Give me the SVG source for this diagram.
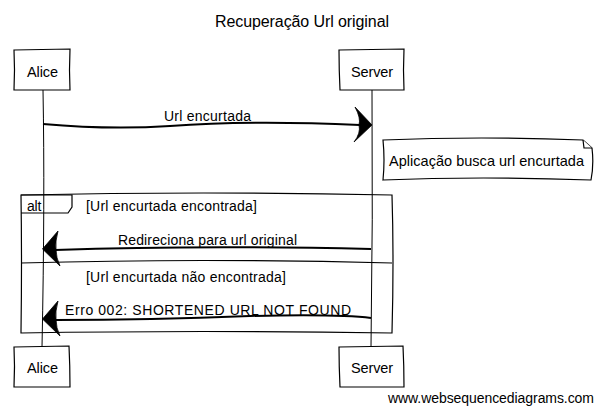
<svg xmlns="http://www.w3.org/2000/svg" width="601" height="412" viewBox="0 0 601 412">
<style>
text { font-family: "Liberation Sans", Arial, sans-serif; fill: #000; }
.t { font-size: 14px; }
.p { font-size: 14.5px; }
.title { font-size: 16px; text-anchor: middle; }
.box { fill: #fff; stroke: #000; stroke-width: 1.2; }
.life { fill: none; stroke: #000; stroke-width: 1; }
.msg { fill: none; stroke: #000; stroke-width: 2; }
.head { fill: #000; stroke: #000; stroke-width: 0.8; stroke-linejoin: round; }
.frame { fill: none; stroke: #000; stroke-width: 1.2; }
.note { fill: #fff; stroke: #000; stroke-width: 1.2; }
</style>
<rect width="601" height="412" fill="#fff"/>
<text class="title" x="302" y="27" textLength="174">Recuperação Url original</text>

<g id="lifelines">
<path class="life" d="M43 90 Q45 200 42 347"/>
<path class="life" d="M372 90 Q373 220 371 347"/>
</g>

<g id="alt-frame">
<path class="frame" d="M21 195 Q200 191 392 195 Q394 260 392 333 Q200 330 21 333 Q22 260 21 195 Z"/>
<path class="frame" d="M21 195 L72 195 L72 207 L68 213 L21 213"/>
<text class="t" x="27" y="211" textLength="14.4">alt</text>
<text class="t" x="86" y="211" textLength="171">[Url encurtada encontrada]</text>
<path class="frame" d="M21 263 Q200 258 392 263"/>
<text class="t" x="86" y="282" textLength="200">[Url encurtada não encontrada]</text>
</g>

<g id="connectors">
<path class="msg" d="M43 124 Q110 130 170 126 Q250 120 360 125"/>
<path class="head" d="M372 125 L355 107 Q361 118 359 125 Q361 133 354 142 Z"/>
<text class="t" x="164" y="121" textLength="87">Url encurtada</text>

<path class="msg" d="M371 249 Q200 245 55 250"/>
<path class="head" d="M42.5 249 L58 231 Q55 242 56 249 Q56 258 60 266 Z"/>
<text class="t" x="118" y="245" textLength="179">Redireciona para url original</text>

<path class="msg" d="M371 318 Q340 314 250 316 Q150 320 55 320"/>
<path class="head" d="M42.5 319 L58 301 Q55 312 56 319 Q56 328 60 336 Z"/>
<text class="t" x="65" y="315" textLength="286">Erro 002: SHORTENED URL NOT FOUND</text>
</g>

<g id="note">
<path class="note" d="M383 140 Q480 136 583 140 L592 148 Q594 165 591 180 Q480 176 383 180 Q385 160 383 140 Z"/>
<path class="note" d="M583 140 L584 148 L592 148"/>
<text class="p" x="389" y="166" textLength="195">Aplicação busca url encurtada</text>
</g>

<g id="alice-top">
<path class="box" d="M14 50 L70 49 Q69 70 70 90 L14 90 Q15 70 14 50 Z"/>
<text class="p" x="27" y="77" textLength="31">Alice</text>
</g>
<g id="server-top">
<path class="box" d="M339 50 L404 49 Q403 70 404 90 L340 90 Q339 70 339 50 Z"/>
<text class="p" x="351" y="77" textLength="42">Server</text>
</g>
<g id="alice-bottom">
<path class="box" d="M14 347 L69 346 Q70 366 70 387 L14 387 Q15 366 14 347 Z"/>
<text class="p" x="27" y="373" textLength="31">Alice</text>
</g>
<g id="server-bottom">
<path class="box" d="M339 347 L403 346 Q404 366 404 387 L340 387 Q339 366 339 347 Z"/>
<text class="p" x="351" y="373" textLength="42">Server</text>
</g>

<text class="t" x="388" y="403" textLength="206">www.websequencediagrams.com</text>
</svg>
